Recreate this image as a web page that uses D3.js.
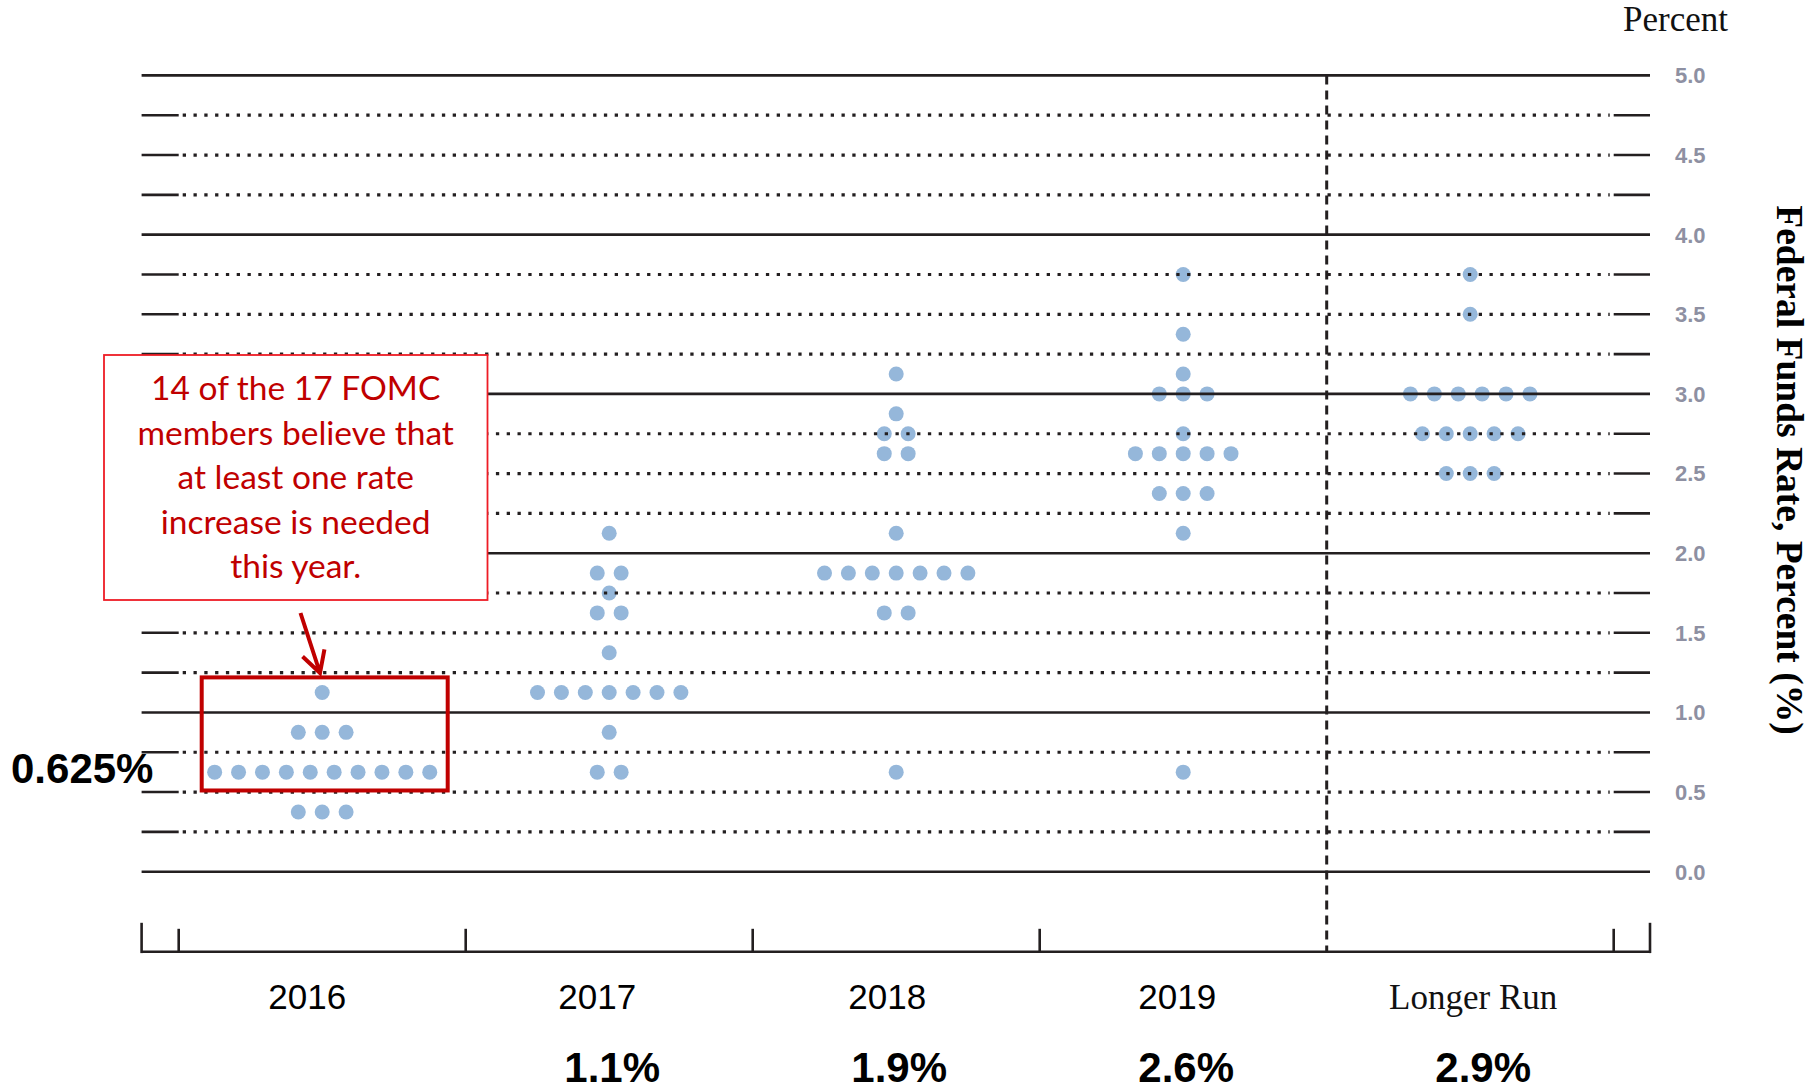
<!DOCTYPE html>
<html lang="en">
<head>
    <meta charset="UTF-8">
    <title>FOMC Dot Plot</title>
    <script src="https://d3js.org/d3.v7.min.js"></script>
    <style>
        body { margin: 0; background: #fff; }
        svg { display: block; }
        .year { font-family: "Liberation Sans", Arial, sans-serif; font-size: 35px; fill: #000; }
        .median { font-family: "Liberation Sans", Arial, sans-serif; font-size: 42px; font-weight: bold; fill: #000; }
        .serif { font-family: "Liberation Serif", "Times New Roman", serif; fill: #111; }
        .rlabel { font-family: "Liberation Sans", Arial, sans-serif; font-size: 22px; font-weight: bold; fill: #8e90a2; }
        .note { font-family: Lato, "Open Sans", sans-serif; font-size: 33.5px; fill: #c00000; }
    </style>
</head>
<body>
<svg id="chart" width="1820" height="1092"></svg>

<script>
    const categories = ["2016", "2017", "2018", "2019", "Longer Run"];

    // one value per participant
    const proj2016 = [1.125, 0.875, 0.875, 0.875,
        0.625, 0.625, 0.625, 0.625, 0.625, 0.625, 0.625, 0.625, 0.625, 0.625,
        0.375, 0.375, 0.375];
    const proj2017 = [2.125, 1.875, 1.875, 1.75, 1.625, 1.625, 1.375,
        1.125, 1.125, 1.125, 1.125, 1.125, 1.125, 1.125,
        0.875, 0.625, 0.625];
    const proj2018 = [3.125, 2.875, 2.75, 2.75, 2.625, 2.625, 2.125,
        1.875, 1.875, 1.875, 1.875, 1.875, 1.875, 1.875,
        1.625, 1.625, 0.625];
    const proj2019 = [3.75, 3.375, 3.125, 3.0, 3.0, 3.0, 2.75,
        2.625, 2.625, 2.625, 2.625, 2.625,
        2.375, 2.375, 2.375, 2.125, 0.625];
    const projLonger = [3.75, 3.5, 3.0, 3.0, 3.0, 3.0, 3.0, 3.0,
        2.75, 2.75, 2.75, 2.75, 2.75, 2.5, 2.5, 2.5];
    const projections = [proj2016, proj2017, proj2018, proj2019, projLonger];

    const medianLabels = ["", "1.1%", "1.9%", "2.6%", "2.9%"];
    const tickLabels = ["0.0", "0.5", "1.0", "1.5", "2.0", "2.5", "3.0", "3.5", "4.0", "4.5", "5.0"];

    const svg = d3.select("#chart");
    const lineLeft = 141.6, lineRight = 1650, axisY = 951.8;
    const dotStep = 23.9;
    const ink = "#231f20";

    const x = d3.scaleBand().domain(categories).range([178.7, 1613.7]);
    const y = d3.scaleLinear().domain([0, 5]).range([871.7, 75.4]);
    const [bandStart, bandEnd] = x.range();
    const center = c => x(c) + x.bandwidth() / 2;

    // dots
    const dotData = [];
    categories.forEach((c, i) => {
        d3.rollups(projections[i], v => v.length, d => d).forEach(([value, n]) => {
            for (let k = 0; k < n; k++) {
                dotData.push({ cat: c, value, offset: k - (n - 1) / 2 });
            }
        });
    });
    svg.append("g").selectAll("circle")
        .data(dotData)
        .join("circle")
        .attr("cx", d => center(d.cat) + d.offset * dotStep)
        .attr("cy", d => y(d.value))
        .attr("r", 7.5)
        .attr("fill", "#95b7da");

    // grid lines every quarter point
    const grid = svg.append("g");
    d3.range(0, 5.001, 0.25).forEach(v => {
        const gy = y(v);
        if (Number.isInteger(v)) {
            grid.append("line").attr("x1", lineLeft).attr("x2", lineRight)
                .attr("y1", gy).attr("y2", gy)
                .attr("stroke", ink).attr("stroke-width", 2.6);
        } else {
            grid.append("line").attr("x1", lineLeft).attr("x2", bandStart)
                .attr("y1", gy).attr("y2", gy)
                .attr("stroke", ink).attr("stroke-width", 2.6);
            grid.append("line").attr("x1", bandEnd).attr("x2", lineRight)
                .attr("y1", gy).attr("y2", gy)
                .attr("stroke", ink).attr("stroke-width", 2.6);
            grid.append("line").attr("x1", bandStart + 4).attr("x2", bandEnd - 4)
                .attr("y1", gy).attr("y2", gy)
                .attr("stroke", ink).attr("stroke-width", 3.2)
                .attr("stroke-dasharray", "3.3 7.5");
        }
    });

    // right-hand tick labels
    svg.append("g").selectAll("text")
        .data(tickLabels)
        .join("text")
        .attr("class", "rlabel")
        .attr("x", 1675)
        .attr("y", d => y(+d))
        .attr("dy", "0.36em")
        .text(d => d);

    // separator before longer run
    svg.append("line")
        .attr("x1", x("Longer Run")).attr("x2", x("Longer Run"))
        .attr("y1", y(5)).attr("y2", axisY)
        .attr("stroke", ink).attr("stroke-width", 3)
        .attr("stroke-dasharray", "9 6");

    // bottom axis
    const axis = svg.append("g").attr("stroke", ink).attr("stroke-width", 2.6);
    axis.append("line").attr("x1", lineLeft).attr("x2", lineRight)
        .attr("y1", axisY).attr("y2", axisY);
    [lineLeft, lineRight].forEach(px => {
        axis.append("line").attr("x1", px).attr("x2", px)
            .attr("y1", axisY - 29).attr("y2", axisY + 1.3);
    });
    categories.slice(0, 4).map(c => x(c)).concat([bandEnd]).forEach(px => {
        axis.append("line").attr("x1", px).attr("x2", px)
            .attr("y1", axisY - 23).attr("y2", axisY);
    });

    // category labels (slightly left of the dot columns, as in the original)
    svg.append("g").selectAll("text")
        .data(categories)
        .join("text")
        .attr("class", d => d === "Longer Run" ? "serif" : "year")
        .style("font-size", "35px")
        .attr("x", (d, i) => center(d) + (d === "Longer Run" ? 3 : -15 + i * 3))
        .attr("y", 1009)
        .attr("text-anchor", "middle")
        .text(d => d);

    svg.append("g").selectAll("text")
        .data(medianLabels)
        .join("text")
        .attr("class", "median")
        .attr("x", (d, i) => center(categories[i]) + (i === 4 ? 13 : 3))
        .attr("y", 1082)
        .attr("text-anchor", "middle")
        .text(d => d);

    svg.append("text")
        .attr("class", "serif")
        .attr("x", 1623).attr("y", 31)
        .style("font-size", "35px")
        .text("Percent");

    svg.append("text")
        .attr("class", "serif")
        .attr("transform", "translate(1777,470) rotate(90)")
        .attr("text-anchor", "middle")
        .style("font-size", "37.5px")
        .style("font-weight", "bold")
        .style("fill", "#000")
        .text("Federal Funds Rate, Percent (%)");

    // callout
    const c16 = center("2016");
    svg.append("rect")
        .attr("x", c16 - 120.5).attr("y", y(1.22))
        .attr("width", 246).attr("height", y(0.51) - y(1.22))
        .attr("fill", "none").attr("stroke", "#c00000").attr("stroke-width", 4);

    svg.append("text")
        .attr("x", 11).attr("y", 783)
        .attr("class", "median")
        .text("0.625%");

    svg.append("rect")
        .attr("x", 104).attr("y", 355).attr("width", 383.5).attr("height", 245)
        .attr("fill", "#fff").attr("stroke", "#ee1c25").attr("stroke-width", 1.8);

    const noteLines = ["14 of the 17 FOMC", "members believe that", "at least one rate",
        "increase is needed", "this year."];
    svg.append("g").selectAll("text")
        .data(noteLines)
        .join("text")
        .attr("class", "note")
        .attr("x", 295.7)
        .attr("y", (d, i) => 400 + i * 44.6)
        .attr("text-anchor", "middle")
        .text(d => d);

    const start = [300.5, 613], tip = [320, 673];
    const ang = Math.atan2(tip[1] - start[1], tip[0] - start[0]);
    const wing = a => [tip[0] - 24 * Math.cos(ang + a), tip[1] - 24 * Math.sin(ang + a)];
    const w1 = wing(0.5), w2 = wing(-0.5);
    svg.append("path")
        .attr("d", `M${start}L${tip}M${w1}L${tip}L${w2}`)
        .attr("fill", "none").attr("stroke", "#c00000").attr("stroke-width", 4);
</script>
</body>
</html>
